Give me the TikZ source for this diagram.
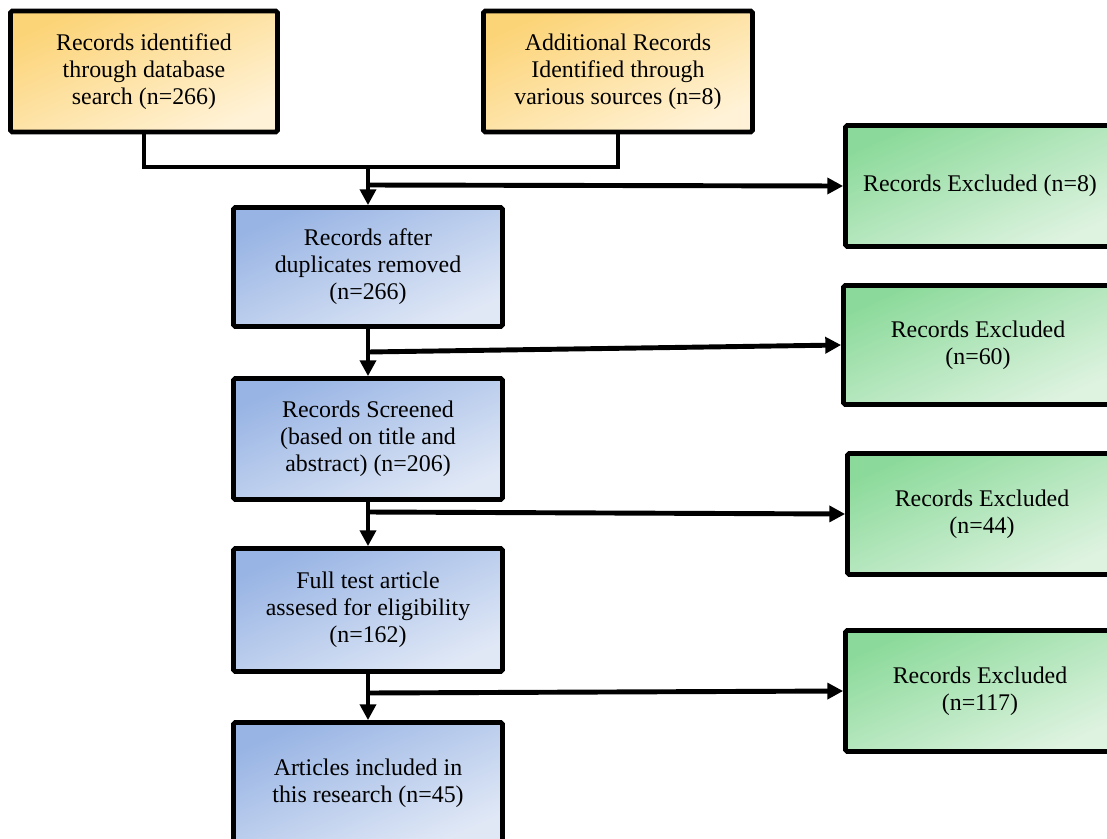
\documentclass[tikz,border=0pt]{standalone}
\usepackage{fontspec}
\setmainfont{Liberation Serif}
\usetikzlibrary{arrows.meta}

\begin{document}
\begin{tikzpicture}[x=0.02cm, y=-0.02cm,
    >={Triangle[length=9pt, width=9pt]},
    flowbox/.style={draw=black, line width=2.7pt, rounded corners=1pt, align=center,
        minimum width=5.38cm, minimum height=2.42cm, inner sep=2pt,
        font=\fontsize{13.6pt}{15.3pt}\selectfont},
    srcbox/.style={flowbox, top color=srcdark, bottom color=srclight, shading angle=24},
    stagebox/.style={flowbox, top color=stagedark, bottom color=stagelight, shading angle=24},
    exbox/.style={flowbox, top color=exdark, bottom color=exlight, shading angle=24},
    link/.style={line width=2.8pt}]
    \definecolor{srcdark}{RGB}{252,212,120}
    \definecolor{srclight}{RGB}{255,242,214}
    \definecolor{stagedark}{RGB}{152,180,228}
    \definecolor{stagelight}{RGB}{224,232,246}
    \definecolor{exdark}{RGB}{140,218,155}
    \definecolor{exlight}{RGB}{222,243,224}

    \clip (0,0) rectangle (1107,839);

    \node[srcbox, minimum width=5.34cm] (dbsearch) at (144,71.5) {Records identified\\through database\\search (n=266)};
    \node[srcbox] (othersrc) at (618,71.5) {Additional Records\\Identified through\\various sources (n=8)};

    \node[stagebox, minimum height=2.38cm] (dedup) at (368,267) {Records after\\duplicates removed\\(n=266)};
    \node[stagebox] (screened) at (368,439) {Records Screened\\(based on title and\\abstract) (n=206)};
    \node[stagebox, minimum height=2.46cm] (fulltext) at (368,610) {Full test article\\assesed for eligibility\\(n=162)};
    \node[stagebox] (included) at (368,783) {Articles included in\\this research (n=45)};

    \node[exbox] (excl1) at (980,186) {Records Excluded (n=8)};
    \node[exbox, minimum height=2.38cm] (excl2) at (978,345) {Records Excluded\\(n=60)};
    \node[exbox] (excl3) at (982,514) {Records Excluded\\(n=44)};
    \node[exbox] (excl4) at (980,691) {Records Excluded\\(n=117)};

    \coordinate (merge) at (368,167);
    \coordinate (split1) at (368,185);
    \coordinate (split2) at (368,352);
    \coordinate (split3) at (368,512);
    \coordinate (split4) at (368,693);

    \draw[link] (dbsearch.south) |- (merge);
    \draw[link] (othersrc.south) |- (merge);
    \draw[link, ->] (merge) -- (dedup.north);
    \draw[link, ->] (split1) -- (excl1.west);

    \draw[link, ->] (dedup.south) -- (screened.north);
    \draw[link, ->] (split2) -- (excl2.west);

    \draw[link, ->] (screened.south) -- (fulltext.north);
    \draw[link, ->] (split3) -- (excl3.west);

    \draw[link, ->] (fulltext.south) -- (included.north);
    \draw[link, ->] (split4) -- (excl4.west);
\end{tikzpicture}
\end{document}
